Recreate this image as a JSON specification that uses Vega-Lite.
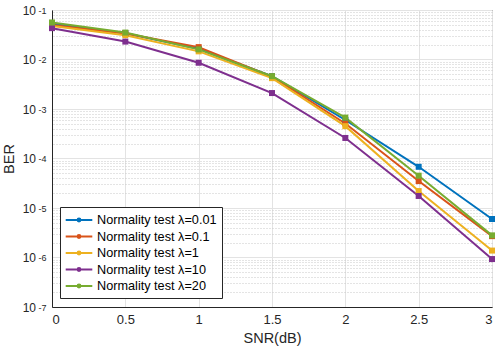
{
  "$schema": "https://vega.github.io/schema/vega-lite/v6.json",
  "width": 440,
  "height": 297,
  "autosize": "none",
  "padding": {"left": 52, "top": 10, "right": 6, "bottom": 43},
  "background": "white",
  "config": {
    "font": "Liberation Sans",
    "view": {"stroke": "#262626", "strokeWidth": 1},
    "axis": {"labelFont": "Liberation Sans", "titleFont": "Liberation Sans", "labelColor": "#262626", "titleColor": "#262626", "labelFontSize": 13, "titleFontSize": 14.5, "titleFontWeight": "normal", "domainColor": "#262626"}
  },
  "data": {"values": [
    {"snr": 0, "ber": 0.053, "s": "Normality test λ=0.01"},
    {"snr": 0.5, "ber": 0.034, "s": "Normality test λ=0.01"},
    {"snr": 1, "ber": 0.0165, "s": "Normality test λ=0.01"},
    {"snr": 1.5, "ber": 0.0046, "s": "Normality test λ=0.01"},
    {"snr": 2, "ber": 0.0006, "s": "Normality test λ=0.01"},
    {"snr": 2.5, "ber": 0.000068, "s": "Normality test λ=0.01"},
    {"snr": 3, "ber": 0.000006, "s": "Normality test λ=0.01"},
    {"snr": 0, "ber": 0.050, "s": "Normality test λ=0.1"},
    {"snr": 0.5, "ber": 0.0335, "s": "Normality test λ=0.1"},
    {"snr": 1, "ber": 0.0178, "s": "Normality test λ=0.1"},
    {"snr": 1.5, "ber": 0.0045, "s": "Normality test λ=0.1"},
    {"snr": 2, "ber": 0.00051, "s": "Normality test λ=0.1"},
    {"snr": 2.5, "ber": 0.000035, "s": "Normality test λ=0.1"},
    {"snr": 3, "ber": 0.0000027, "s": "Normality test λ=0.1"},
    {"snr": 0, "ber": 0.0475, "s": "Normality test λ=1"},
    {"snr": 0.5, "ber": 0.031, "s": "Normality test λ=1"},
    {"snr": 1, "ber": 0.0146, "s": "Normality test λ=1"},
    {"snr": 1.5, "ber": 0.0042, "s": "Normality test λ=1"},
    {"snr": 2, "ber": 0.00045, "s": "Normality test λ=1"},
    {"snr": 2.5, "ber": 0.000022, "s": "Normality test λ=1"},
    {"snr": 3, "ber": 0.00000138, "s": "Normality test λ=1"},
    {"snr": 0, "ber": 0.043, "s": "Normality test λ=10"},
    {"snr": 0.5, "ber": 0.023, "s": "Normality test λ=10"},
    {"snr": 1, "ber": 0.0086, "s": "Normality test λ=10"},
    {"snr": 1.5, "ber": 0.0021, "s": "Normality test λ=10"},
    {"snr": 2, "ber": 0.00026, "s": "Normality test λ=10"},
    {"snr": 2.5, "ber": 0.0000175, "s": "Normality test λ=10"},
    {"snr": 3, "ber": 0.00000093, "s": "Normality test λ=10"},
    {"snr": 0, "ber": 0.056, "s": "Normality test λ=20"},
    {"snr": 0.5, "ber": 0.035, "s": "Normality test λ=20"},
    {"snr": 1, "ber": 0.016, "s": "Normality test λ=20"},
    {"snr": 1.5, "ber": 0.0046, "s": "Normality test λ=20"},
    {"snr": 2, "ber": 0.00067, "s": "Normality test λ=20"},
    {"snr": 2.5, "ber": 0.000045, "s": "Normality test λ=20"},
    {"snr": 3, "ber": 0.0000028, "s": "Normality test λ=20"}
  ]},
  "layer": [
    {
      "mark": {"type": "line", "strokeWidth": 2},
      "encoding": {
        "x": {"field": "snr", "type": "quantitative", "scale": {"domain": [0, 3], "nice": false},
              "axis": {"orient": "bottom", "title": "SNR(dB)", "values": [0, 0.5, 1, 1.5, 2, 2.5, 3], "format": "~g", "ticks": false, "labelPadding": 6, "titlePadding": 5, "gridColor": "#e3e3e3", "gridWidth": 1}},
        "y": {"field": "ber", "type": "quantitative", "scale": {"type": "log", "domain": [1e-7, 0.1], "nice": false},
              "axis": {"orient": "left", "title": "BER", "values": [1e-7, 1e-6, 1e-5, 1e-4, 1e-3, 1e-2, 1e-1], "ticks": false, "labelPadding": 16.5, "titlePadding": 6, "gridColor": "#e3e3e3", "gridWidth": 1,
                       "labelFontSize": 12, "labelBaseline": "middle", "labelDy": 3.5, "labelExpr": "'10'"}},
        "color": {"field": "s", "type": "nominal",
                  "scale": {"domain": ["Normality test λ=0.01", "Normality test λ=0.1", "Normality test λ=1", "Normality test λ=10", "Normality test λ=20"],
                            "range": ["#0072BD", "#D95319", "#EDB120", "#7E2F8E", "#77AC30"]},
                  "legend": {"title": null, "orient": "none", "legendX": 8, "legendY": 197, "fillColor": "white", "strokeColor": "#262626", "padding": 5,
                             "labelFontSize": 12.7, "labelFont": "Liberation Sans", "labelColor": "#000000", "labelOffset": 10,
                             "symbolType": "M-1.9,0L1.9,0M-0.2,0A0.2,0.2,0,1,0,0.2,0A0.2,0.2,0,1,0,-0.2,0Z",
                             "symbolSize": 196, "symbolStrokeWidth": 2, "rowPadding": 1.5, "symbolOffset": 6,
                             "encode": {"symbols": {"update": {"fill": {"scale": "color", "field": "value"}, "stroke": {"scale": "color", "field": "value"}, "opacity": {"value": 1}, "fillOpacity": {"value": 1}, "strokeOpacity": {"value": 1}}}}}}
      }
    },
    {
      "mark": {"type": "point", "shape": "square", "filled": true, "size": 36, "opacity": 1},
      "encoding": {
        "x": {"field": "snr", "type": "quantitative", "scale": {"domain": [0, 3], "nice": false},
              "axis": {"orient": "top", "title": null, "values": [0, 0.5, 1, 1.5, 2, 2.5, 3], "labels": false, "grid": false, "domain": false, "ticks": false}},
        "y": {"field": "ber", "type": "quantitative", "scale": {"type": "log", "domain": [1e-7, 0.1], "nice": false},
              "axis": {"orient": "right", "title": null, "labels": false, "domain": false, "ticks": false, "grid": true, "gridDash": [1, 2], "gridColor": "#c8c8c8", "gridWidth": 1,
                       "values": [2e-7,3e-7,4e-7,5e-7,6e-7,7e-7,8e-7,9e-7,2e-6,3e-6,4e-6,5e-6,6e-6,7e-6,8e-6,9e-6,2e-5,3e-5,4e-5,5e-5,6e-5,7e-5,8e-5,9e-5,2e-4,3e-4,4e-4,5e-4,6e-4,7e-4,8e-4,9e-4,2e-3,3e-3,4e-3,5e-3,6e-3,7e-3,8e-3,9e-3,2e-2,3e-2,4e-2,5e-2,6e-2,7e-2,8e-2,9e-2]}},
        "color": {"field": "s", "type": "nominal"}
      }
    },
    {
      "mark": {"type": "point", "opacity": 0},
      "encoding": {
        "y": {"field": "ber", "type": "quantitative", "scale": {"type": "log", "domain": [1e-7, 0.1], "nice": false},
              "axis": {"orient": "left", "title": null, "values": [1e-7, 1e-6, 1e-5, 1e-4, 1e-3, 1e-2, 1e-1], "ticks": false, "domain": false, "grid": false, "labelPadding": 6,
                       "labelFontSize": 9, "labelBaseline": "middle", "labelDy": -2,
                       "labelExpr": "'-' + (-round(log(datum.value)/LN10))"}}
      }
    }
  ],
  "resolve": {"axis": {"x": "independent", "y": "independent"}}
}
